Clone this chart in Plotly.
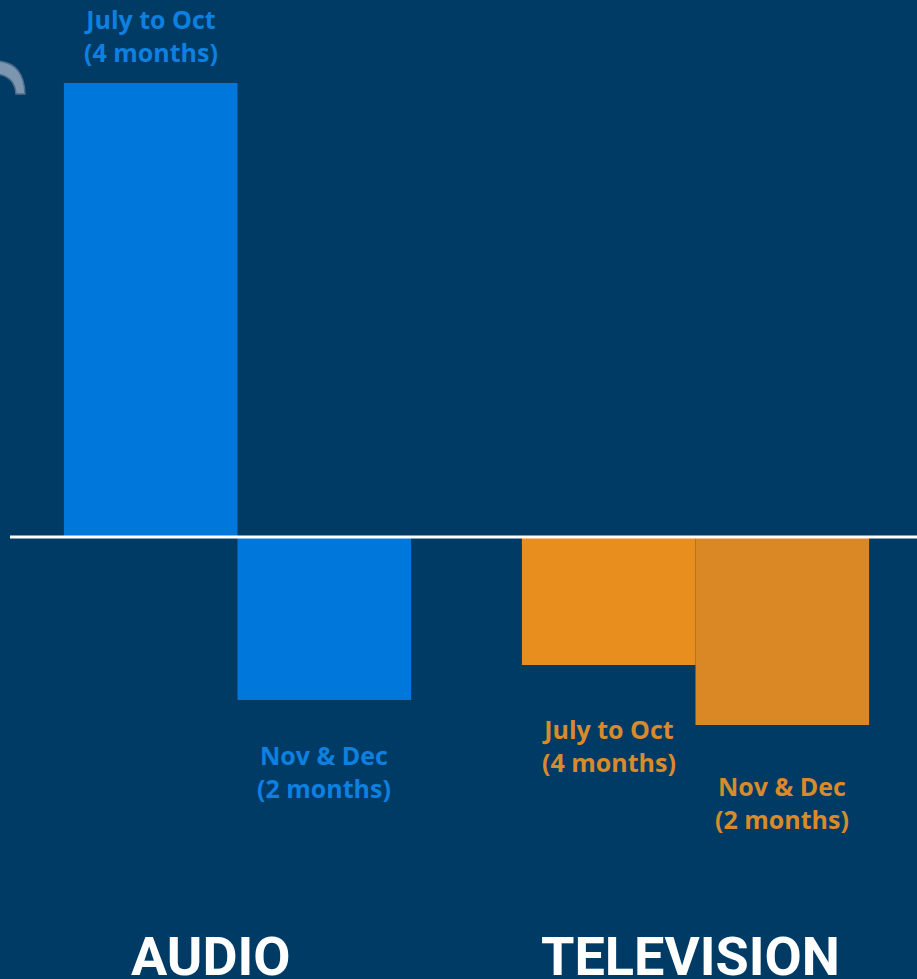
import plotly.graph_objects as go

categories = ["AUDIO", "TELEVISION"]
periods = ["July to Oct<br>(4 months)", "Nov & Dec<br>(2 months)"]
july_oct = [45.4, -12.8]
nov_dec = [-16.3, -18.8]

BG = "#003b66"
BLUE = "#0078db"
BLUE_TXT = "#0d80e0"
OR1 = "#e88e1f"
OR2 = "#d98825"
OR_TXT = "#d98a2b"

W, H = 917, 979
BARGAP = 0.242
half = (1 - BARGAP) / 4  # centre offset of each bar within its group

fig = go.Figure()
fig.add_trace(go.Bar(x=categories, y=july_oct, name="July to Oct",
                     marker=dict(color=[BLUE, OR1], line=dict(width=0))))
fig.add_trace(go.Bar(x=categories, y=nov_dec, name="Nov & Dec",
                     marker=dict(color=[BLUE, OR2], line=dict(width=0))))

lab_family = "'Open Sans', Lato, sans-serif"
# period labels: (category index, which period, value, colour, yshift)
label_specs = [
    (0, 0, july_oct[0], BLUE_TXT, 48),
    (0, 1, nov_dec[0], BLUE_TXT, -71),
    (1, 0, july_oct[1], OR_TXT, -80),
    (1, 1, nov_dec[1], OR_TXT, -77),
]
for ci, pi, val, col, ys in label_specs:
    off = -half if pi == 0 else half
    fig.add_annotation(x=ci + off, y=val, xref="x", yref="y",
                       text="<b>" + periods[pi] + "</b>",
                       showarrow=False, yshift=ys, yanchor="middle",
                       font=dict(family=lab_family, size=25, color=col))

# category labels
for xc, name in [(211 / W, categories[0]), (690 / W, categories[1])]:
    fig.add_annotation(x=xc, y=1 - 956 / H, xref="paper", yref="paper",
                       text="<b>" + name + "</b>", showarrow=False,
                       font=dict(family="Roboto, Lato, sans-serif", size=54, color="white"),
                       xanchor="center", yanchor="middle")

# baseline
fig.add_shape(type="line", xref="paper", yref="y", x0=10 / W, x1=1, y0=0, y1=0,
              line=dict(color="white", width=3))

# partial decorative icon at top-left (cut off by the frame)
def P(x, y):
    return f"{x / W:.5f} {1 - y / H:.5f}"

fig.add_shape(type="path", xref="paper", yref="paper",
              path=f"M {P(-2, 61)} Q {P(24, 63)} {P(25, 94)} L {P(16, 94)} "
                   f"Q {P(15, 77)} {P(-2, 74)} Z",
              fillcolor="#7b96ae", line=dict(color="#4f6e8c", width=1.5))

px_per_cat = 458
left = 237.5
fig.update_layout(
    width=W, height=H,
    paper_bgcolor=BG, plot_bgcolor=BG,
    margin=dict(l=0, r=0, t=0, b=0),
    barmode="group", bargap=BARGAP, bargroupgap=0,
    showlegend=False,
    xaxis=dict(range=[-left / px_per_cat, (W - left) / px_per_cat],
               showticklabels=False, showgrid=False, zeroline=False, fixedrange=True),
    yaxis=dict(range=[-(H - 537) / 10, 537 / 10], showticklabels=False,
               showgrid=False, zeroline=False, fixedrange=True),
)

fig.write_html("out.html", config={"displayModeBar": False},
               post_script="document.body.style.margin='0';document.body.style.background='%s';" % BG)
